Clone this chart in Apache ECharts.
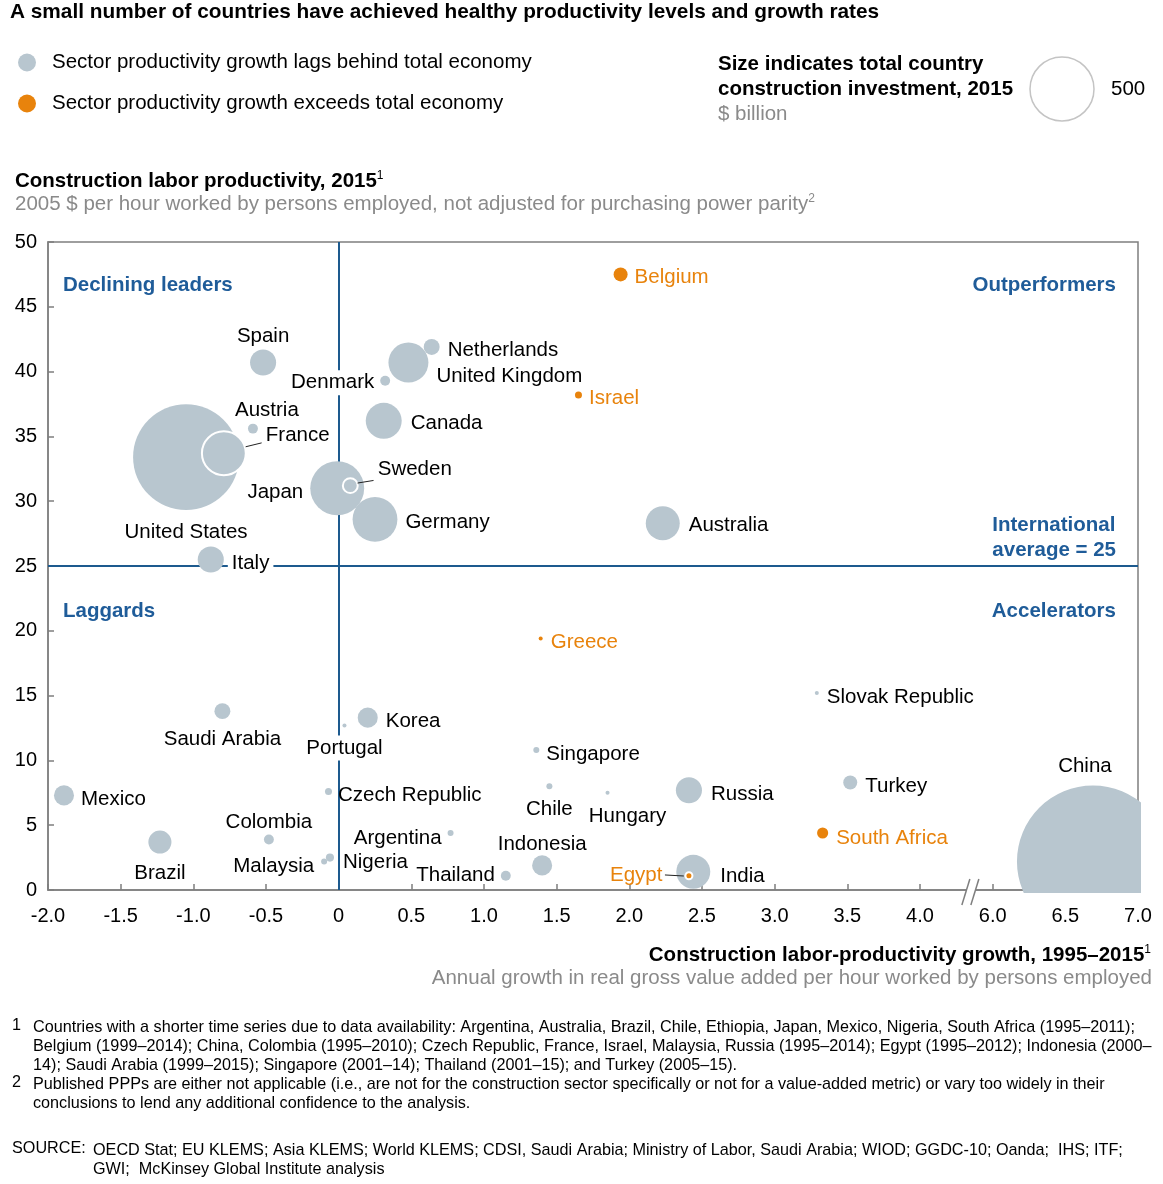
<!DOCTYPE html>
<html>
<head>
<meta charset="utf-8">
<title>Construction labor productivity</title>
<script src="https://cdn.jsdelivr.net/npm/echarts@6.0.0/dist/echarts.min.js"></script>
<style>
  html, body { margin: 0; padding: 0; background: #fff; }
  #chart { width: 1163px; height: 1184px; }
</style>
</head>
<body>
<div id="chart"></div>
<script>
// values
var countries = ['United States', 'France', 'Austria', 'Spain', 'Denmark', 'United Kingdom', 'Netherlands',
  'Canada', 'Japan', 'Sweden', 'Germany', 'Italy', 'Belgium', 'Israel', 'Australia', 'Greece',
  'Slovak Republic', 'Saudi Arabia', 'Korea', 'Portugal', 'Singapore', 'Mexico', 'Czech Republic',
  'Chile', 'Hungary', 'Russia', 'Turkey', 'Colombia', 'Brazil', 'Argentina', 'South Africa',
  'Malaysia', 'Nigeria', 'Thailand', 'Indonesia', 'India', 'Egypt', 'China'];
// construction labor-productivity growth 1995-2015, % per year
var growth = [-1.05, -0.79, -0.59, -0.52, 0.32, 0.48, 0.64, 0.31, -0.01, 0.08, 0.25, -0.88, 1.94, 1.65,
  2.23, 1.39, 3.29, -0.80, 0.20, 0.04, 1.36, -1.89, -0.07, 1.45, 1.85, 2.41, 3.52, -0.48, -1.23, 0.77,
  3.33, -0.10, -0.06, 1.15, 1.40, 2.44, 2.41, 6.69];
// construction labor productivity 2015, 2005 $ per hour
var productivity = [33.4, 33.7, 35.6, 40.7, 39.3, 40.7, 41.9, 36.2, 31.0, 31.2, 28.6, 25.5, 47.5, 38.2,
  28.3, 19.4, 15.2, 13.8, 13.3, 12.7, 10.8, 7.3, 7.6, 8.0, 7.5, 7.7, 8.3, 3.9, 3.7, 4.4, 4.4, 2.2, 2.5,
  1.1, 1.9, 1.4, 1.1, 2.2];
// total construction investment 2015, $ billion
var investment = [1370, 235, 12, 83, 12, 195, 31, 158, 355, 27, 245, 83, 24, 6, 141, 2, 2, 31, 49, 2,
  4.4, 49, 6, 4.4, 2, 83, 24, 12, 65, 4.4, 15, 4.4, 8, 12, 49, 141, 6, 2820];
var exceedsEconomy = ['Belgium', 'Israel', 'Greece', 'South Africa', 'Egypt'];
var ringed = ['France', 'Sweden', 'Egypt'];
var sizeLegend = 500;

var yTicks = {min: 0, max: 50, step: 5};
var xTicks = {min: -2, max: 7, step: 0.5};
var xBreak = {from: 4, to: 6, gap: 0.5};
var average = 25;

var GREY_NAME = 'Sector productivity growth lags behind total economy';
var ORANGE_NAME = 'Sector productivity growth exceeds total economy';

var footnote1 = [
  'Countries with a shorter time series due to data availability: Argentina, Australia, Brazil, Chile, Ethiopia, Japan, Mexico, Nigeria, South Africa (1995\u20132011);',
  'Belgium (1999\u20132014); China, Colombia (1995\u20132010); Czech Republic, France, Israel, Malaysia, Russia (1995\u20132014); Egypt (1995\u20132012); Indonesia (2000\u2013',
  '14); Saudi Arabia (1999\u20132015); Singapore (2001\u201314); Thailand (2001\u201315); and Turkey (2005\u201315).'
];
var footnote2 = [
  'Published PPPs are either not applicable (i.e., are not for the construction sector specifically or not for a value-added metric) or vary too widely in their',
  'conclusions to lend any additional confidence to the analysis.'
];
var sources = [
  'OECD Stat; EU KLEMS; Asia KLEMS; World KLEMS; CDSI, Saudi Arabia; Ministry of Labor, Saudi Arabia; WIOD; GGDC-10; Oanda;  IHS; ITF;',
  'GWI;  McKinsey Global Institute analysis'
];

// where each label sits: [side, gap, dx, dy]
var labelPlace = {
  'United States': ['bottom', 10, 0, 0], 'France': ['right', 19, 0, -20], 'Austria': ['top', 5, 14, 0],
  'Spain': ['top', 5, 0, 0], 'Denmark': ['left', 2, 0, 0], 'United Kingdom': ['right', 8, 0, 12],
  'Netherlands': ['right', 8, 0, 1], 'Canada': ['right', 9, 0, 0], 'Japan': ['left', 7, 0, 2],
  'Sweden': ['right', 19, 0, -18], 'Germany': ['right', 8, 0, 1], 'Italy': ['right', 4, 0, 2],
  'Belgium': ['right', 7, 0, 1], 'Israel': ['right', 7, 0, 1], 'Australia': ['right', 9, 0, 0],
  'Greece': ['right', 8, 0, 2], 'Slovak Republic': ['right', 8, 0, 2], 'Saudi Arabia': ['bottom', 8, 0, 0],
  'Korea': ['right', 8, 0, 2], 'Portugal': ['bottom', 6, 0, 0], 'Singapore': ['right', 7, 0, 2],
  'Mexico': ['right', 7, 0, 2], 'Czech Republic': ['right', 6, 0, 2], 'Chile': ['bottom', 8, 0, 0],
  'Hungary': ['bottom', 9, 20, 0], 'Russia': ['right', 9, 0, 2], 'Turkey': ['right', 8, 0, 2],
  'Colombia': ['top', 4, 0, 0], 'Brazil': ['bottom', 7, 0, 0], 'Argentina': ['left', 6, 0, 3],
  'South Africa': ['right', 8, 0, 3], 'Malaysia': ['left', 7, 0, 3], 'Nigeria': ['right', 9, 0, 3],
  'Thailand': ['left', 6, 0, -2], 'Indonesia': ['top', 3, 0, 0], 'India': ['right', 10, 0, 2],
  'Egypt': ['left', 22, 0, -2], 'China': ['top', 9, -8, 0]
};
var LABEL_DROP = 2;
var whiteBack = ['Denmark', 'Italy', 'Portugal'];
// leader lines, data coordinates
var leaders = [
  [[-0.64, 34.2], [-0.53, 34.5]],
  [[0.13, 31.4], [0.24, 31.6]],
  [[2.245, 1.16], [2.375, 1.08]]
];

var GREY = '#b8c6cf';
var ORANGE = '#e8830c';
var BLUE = '#1f5c99';
var LINE_BLUE = '#1d5a8e';
var AXIS = '#7f7f7f';
var FONT = '"Liberation Sans", Arial, sans-serif';
var FS = 20.5;
var NOTE = '16.2px ' + FONT;

function radiusOf(v) { return 32 * Math.sqrt(v / sizeLegend); }

var shift = xBreak.to - xBreak.from - xBreak.gap;
function toAxis(v) { return v >= xBreak.to ? v - shift : v; }
function fromAxis(a) { return a > xBreak.from + xBreak.gap / 2 ? a + shift : a; }

var greyData = [], orangeData = [], beyondData = [];
countries.forEach(function (name, i) {
  var orange = exceedsEconomy.indexOf(name) >= 0;
  var p = labelPlace[name] || ['right', 8, 0, 0];
  var item = {
    name: name,
    value: [toAxis(growth[i]), productivity[i], investment[i]],
    label: {
      position: p[0], distance: p[1], offset: [p[2], p[3] + LABEL_DROP],
      color: orange ? ORANGE : '#000'
    }
  };
  if (whiteBack.indexOf(name) >= 0) {
    item.label.backgroundColor = '#fff';
    item.label.padding = [2, 4];
  }
  if (ringed.indexOf(name) >= 0) {
    item.itemStyle = {borderColor: '#fff', borderWidth: 2};
  }
  if (growth[i] >= xBreak.to) beyondData.push(item);
  else if (orange) orangeData.push(item);
  else greyData.push(item);
});

var baseLabel = {show: true, formatter: '{b}', fontSize: FS, fontFamily: FONT, color: '#000'};

var graphics = [
  {type: 'text', left: 10, top: 2, style: {
    text: 'A small number of countries have achieved healthy productivity levels and growth rates',
    font: 'bold 20.8px ' + FONT, fill: '#000'}},
  {type: 'text', left: 718, top: 54, style: {
    text: '{b|Size indicates total country}\n{b|construction investment, 2015}\n{g|$ billion}',
    rich: {
      b: {fontFamily: FONT, fontWeight: 'bold', fontSize: FS, lineHeight: 25, fill: '#000'},
      g: {fontFamily: FONT, fontSize: FS, lineHeight: 25, fill: '#8a8a8a'}
    }}},
  {type: 'circle', shape: {cx: 1062, cy: 89, r: radiusOf(sizeLegend)},
    style: {fill: '#fff', stroke: '#c4c4c4', lineWidth: 1.5}},
  {type: 'text', left: 1111, top: 79, style: {text: String(sizeLegend), font: FS + 'px ' + FONT, fill: '#000'}},
  {type: 'text', left: 15, top: 170, style: {
    text: '{b|Construction labor productivity, 2015}{bs|1}\n{g|2005 $ per hour worked by persons employed, not adjusted for purchasing power parity}{gs|2}',
    rich: {
      b: {fontFamily: FONT, fontWeight: 'bold', fontSize: FS, lineHeight: 23, fill: '#000'},
      bs: {fontFamily: FONT, fontSize: 12, lineHeight: 12, verticalAlign: 'top', fill: '#000'},
      g: {fontFamily: FONT, fontSize: FS, lineHeight: 23, fill: '#8a8a8a'},
      gs: {fontFamily: FONT, fontSize: 12, lineHeight: 12, verticalAlign: 'top', fill: '#8a8a8a'}
    }}},
  {type: 'text', right: 12, top: 944, style: {
    text: '{b|Construction labor-productivity growth, 1995\u20132015}{s|1}',
    rich: {
      b: {fontFamily: FONT, fontWeight: 'bold', fontSize: FS, lineHeight: 23, fill: '#000'},
      s: {fontFamily: FONT, fontSize: 12, lineHeight: 12, verticalAlign: 'top', fill: '#000'}
    }}},
  {type: 'text', right: 11, top: 968, style: {
    text: 'Annual growth in real gross value added per hour worked by persons employed',
    font: FS + 'px ' + FONT, fill: '#8a8a8a'}},
  // quadrant names
  {type: 'text', left: 63, top: 275, style: {text: 'Declining leaders', font: 'bold ' + FS + 'px ' + FONT, fill: BLUE}},
  {type: 'text', right: 47, top: 275, style: {text: 'Outperformers', font: 'bold ' + FS + 'px ' + FONT, fill: BLUE}},
  {type: 'text', right: 47, top: 513, style: {text: 'International\naverage = ' + average,
    font: 'bold ' + FS + 'px ' + FONT, fill: BLUE, align: 'right', lineHeight: 25}},
  {type: 'text', left: 63, top: 601, style: {text: 'Laggards', font: 'bold ' + FS + 'px ' + FONT, fill: BLUE}},
  {type: 'text', right: 47, top: 601, style: {text: 'Accelerators', font: 'bold ' + FS + 'px ' + FONT, fill: BLUE}},
  // footnotes
  {type: 'text', left: 12, top: 1018, style: {text: '1', font: NOTE, fill: '#000'}},
  {type: 'text', left: 33, top: 1018, style: {text: footnote1.join('\n'), font: NOTE, fill: '#000', lineHeight: 19}},
  {type: 'text', left: 12, top: 1075, style: {text: '2', font: NOTE, fill: '#000'}},
  {type: 'text', left: 33, top: 1075, style: {text: footnote2.join('\n'), font: NOTE, fill: '#000', lineHeight: 19}},
  {type: 'text', left: 12, top: 1141, style: {text: 'SOURCE:', font: NOTE, fill: '#000'}},
  {type: 'text', left: 93, top: 1141, style: {text: sources.join('\n'), font: NOTE, fill: '#000', lineHeight: 19}}
];

var option = {
  animation: false,
  backgroundColor: '#fff',
  textStyle: {fontFamily: FONT},
  grid: {left: 48, right: 25, top: 242, bottom: 294, show: true, borderColor: AXIS, borderWidth: 1.5},
  legend: {
    orient: 'vertical', left: 18, top: 52, padding: 0, itemWidth: 18, itemHeight: 18, itemGap: 20,
    icon: 'circle', selectedMode: false,
    textStyle: {fontSize: FS, fontFamily: FONT, color: '#000', padding: [0, 0, 0, 11]},
    data: [GREY_NAME, ORANGE_NAME]
  },
  xAxis: {
    type: 'value', min: xTicks.min, max: toAxis(xTicks.max), interval: xTicks.step,
    axisLine: {show: true, lineStyle: {color: AXIS, width: 1.5}},
    axisTick: {show: true, inside: true, length: 6, lineStyle: {color: AXIS, width: 1.5}},
    axisLabel: {fontSize: 20, fontFamily: FONT, color: '#000', margin: 16,
      formatter: function (a) { var v = fromAxis(a); return v === 0 ? '0' : v.toFixed(1); }},
    splitLine: {show: false}
  },
  yAxis: {
    type: 'value', min: yTicks.min, max: yTicks.max, interval: yTicks.step,
    axisLine: {show: true, onZero: false, lineStyle: {color: AXIS, width: 1.5}},
    axisTick: {show: true, inside: true, length: 6, lineStyle: {color: AXIS, width: 1.5}},
    axisLabel: {fontSize: 20, fontFamily: FONT, color: '#000', margin: 11},
    splitLine: {show: false}
  },
  series: [
    {
      name: GREY_NAME, type: 'scatter', symbol: 'circle', z: 2,
      symbolSize: function (v) { return 2 * radiusOf(v[2]); },
      itemStyle: {color: GREY, opacity: 1},
      label: baseLabel,
      emphasis: {disabled: true},
      data: greyData,
      markLine: {
        silent: true, symbol: 'none', z: 1, animation: false,
        label: {show: false},
        lineStyle: {color: LINE_BLUE, width: 2, type: 'solid'},
        data: [{xAxis: 0}, {yAxis: average}]
      }
    },
    {
      name: ORANGE_NAME, type: 'scatter', symbol: 'circle', z: 2,
      symbolSize: function (v) { return 2 * radiusOf(v[2]); },
      itemStyle: {color: ORANGE, opacity: 1},
      label: baseLabel,
      emphasis: {disabled: true},
      data: orangeData
    },
    {
      // bubbles past the axis break run off the plot, so clip them to it
      name: GREY_NAME, type: 'custom', clip: true, z: 2, lineStyle: {width: 6},
      data: beyondData,
      renderItem: function (params, api) {
        var c = api.coord([api.value(0), api.value(1)]);
        var r = radiusOf(api.value(2));
        var it = beyondData[params.dataIndex];
        return {type: 'group', children: [
          {type: 'circle', shape: {cx: c[0], cy: c[1], r: r}, style: {fill: GREY}},
          {type: 'text', x: c[0] + it.label.offset[0], y: c[1] - r - it.label.distance,
            style: {text: it.name, align: 'center', verticalAlign: 'bottom',
              fontSize: FS, fontFamily: FONT, fill: '#000'}}
        ]};
      }
    },
    {
      type: 'lines', coordinateSystem: 'cartesian2d', z: 3, silent: true,
      lineStyle: {color: '#222', width: 1, opacity: 1},
      data: leaders.map(function (l) { return {coords: [[toAxis(l[0][0]), l[0][1]], [toAxis(l[1][0]), l[1][1]]]}; })
    }
  ],
  graphic: {elements: graphics}
};

var chart = echarts.init(document.getElementById('chart'));
chart.setOption(option);

// axis break marks
var bp = chart.convertToPixel({xAxisIndex: 0, yAxisIndex: 0}, [xBreak.from + xBreak.gap * 0.7, yTicks.min]);
var bx = bp[0], by = bp[1];
graphics.push(
  {type: 'polygon', shape: {points: [[bx - 9, by + 15], [bx - 1, by - 11], [bx + 8, by - 11], [bx, by + 15]]},
    style: {fill: '#fff'}, z: 10},
  {type: 'line', shape: {x1: bx - 9, y1: by + 15, x2: bx - 1, y2: by - 11}, style: {stroke: AXIS, lineWidth: 1.5}, z: 10},
  {type: 'line', shape: {x1: bx, y1: by + 15, x2: bx + 8, y2: by - 11}, style: {stroke: AXIS, lineWidth: 1.5}, z: 10}
);
chart.setOption(option, true);
</script>
</body>
</html>
